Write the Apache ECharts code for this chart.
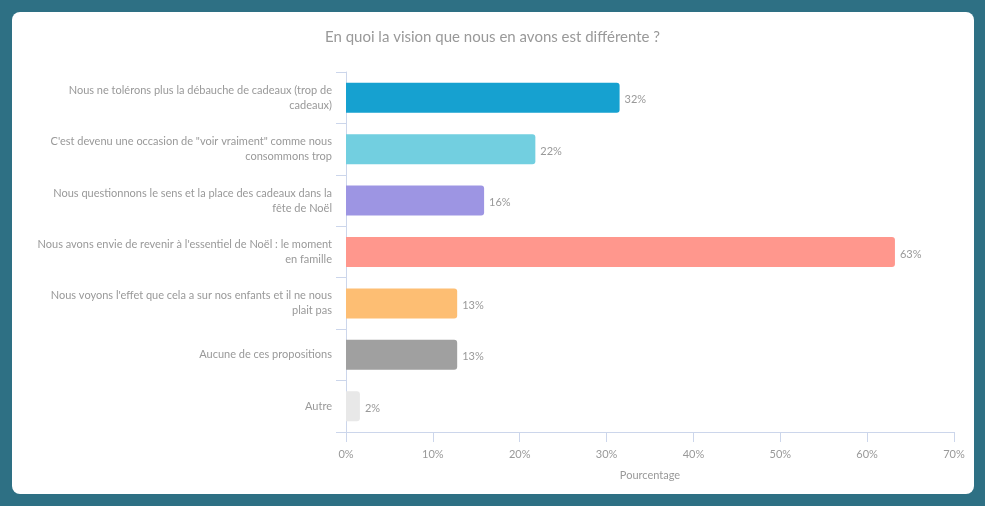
<!DOCTYPE html>
<html>
<head>
<meta charset="utf-8">
<script src="https://cdn.jsdelivr.net/npm/echarts@6/dist/echarts.min.js"></script>
<style>
html,body{margin:0;padding:0;background:#2e7084;}
#c{width:985px;height:506px;}
</style>
</head>
<body>
<div id="c"></div>
<script>
const titleText = "En quoi la vision que nous en avons est différente ?";
const categories = [
  "Nous ne tolérons plus la débauche de cadeaux (trop de\ncadeaux)",
  "C'est devenu une occasion de \"voir vraiment\" comme nous\nconsommons trop",
  "Nous questionnons le sens et la place des cadeaux dans la\nfête de Noël",
  "Nous avons envie de revenir à l'essentiel de Noël : le moment\nen famille",
  "Nous voyons l'effet que cela a sur nos enfants et il ne nous\nplait pas",
  "Aucune de ces propositions",
  "Autre"
];
const values = [31.5, 21.8, 15.9, 63.2, 12.8, 12.8, 1.6];
const colors = ["#16a1d0", "#72cfe0", "#9d95e3", "#ff978d", "#fdbe73", "#a0a0a0", "#e8e8e8"];
const xAxisName = "Pourcentage";

const font = "Lato, 'Open Sans', sans-serif";
const chart = echarts.init(document.getElementById('c'));
chart.setOption({
  backgroundColor: '#2e7084',
  animation: false,
  graphic: [{
    type: 'rect', z: -10, silent: true,
    shape: {x: 12, y: 12, width: 962, height: 482, r: 8},
    style: {fill: '#ffffff'}
  }],
  title: {
    text: titleText, left: 'center', top: 25,
    textStyle: {color: '#999999', fontSize: 15, fontWeight: 'normal', fontFamily: font}
  },
  grid: {left: 346, right: 31, top: 72, bottom: 74, containLabel: false},
  xAxis: {
    type: 'value', min: 0, max: 70, interval: 10,
    name: xAxisName, nameLocation: 'middle', nameGap: 38,
    nameTextStyle: {color: '#999999', fontSize: 11, fontFamily: font},
    axisLine: {show: true, lineStyle: {color: '#ccd6eb'}},
    axisTick: {show: true, length: 10, lineStyle: {color: '#ccd6eb'}},
    axisLabel: {color: '#999999', fontSize: 11, fontFamily: font, margin: 17, formatter: v => v + '%'},
    splitLine: {show: false}
  },
  yAxis: {
    type: 'category', data: categories, inverse: true,
    axisLine: {show: true, lineStyle: {color: '#ccd6eb'}},
    axisTick: {show: true, length: 10, lineStyle: {color: '#ccd6eb'}},
    axisLabel: {
      color: '#999999', fontSize: 11, fontFamily: font, margin: 14,
      lineHeight: 15, align: 'right'
    },
    splitLine: {show: false}
  },
  series: [{
    type: 'bar',
    barWidth: 30,
    data: values.map((v, i) => ({value: v, itemStyle: {color: colors[i]}})),
    itemStyle: {borderRadius: [0, 3, 3, 0]},
    label: {
      show: true, position: 'right', distance: 5, offset: [0, 2],
      color: '#999999', fontSize: 11, fontFamily: font,
      formatter: p => Math.round(p.value) + '%'
    }
  }]
});
</script>
</body>
</html>
